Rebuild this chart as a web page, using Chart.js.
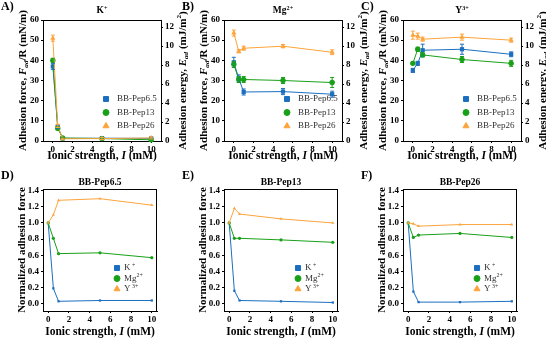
<!DOCTYPE html>
<html>
<head>
<meta charset="utf-8">
<script src="https://cdn.jsdelivr.net/npm/chart.js@4.4.0/dist/chart.umd.min.js"></script>
<style>
  html, body { margin: 0; padding: 0; background: #fff; }
  #wrap { position: relative; width: 546px; height: 339px; overflow: hidden; }
  canvas { position: absolute; }
</style>
</head>
<body>
<div id="wrap">
  <canvas id="cA" width="190" height="170" style="left:0;top:0;width:190px;height:170px"></canvas>
  <canvas id="cB" width="190" height="170" style="left:181px;top:0;width:190px;height:170px"></canvas>
  <canvas id="cC" width="190" height="170" style="left:360px;top:0;width:190px;height:170px"></canvas>
  <canvas id="cD" width="182" height="169" style="left:0;top:170px;width:182px;height:169px"></canvas>
  <canvas id="cE" width="182" height="169" style="left:181px;top:170px;width:182px;height:169px"></canvas>
  <canvas id="cF" width="182" height="169" style="left:360px;top:170px;width:182px;height:169px"></canvas>
</div>
<script>
// ionic strength (mM)
var ionicStrength = [0, 0.5, 1, 5, 10];
var xTicks = [0, 2, 4, 6, 8, 10];

// adhesion force F_ad/R (mN/m), panels A-C
var forceK_Pep65  = [37, 7.0, 1.3, 1.4, 1.3];
var forceK_Pep13  = [40, 6.3, 1.5, 1.2, 0.6];
var forceK_Pep26  = [51, 7.5, 1.1, 1.2, 1.5];
var errK_Pep65    = [1.5, 0.8, 0.3, 0.3, 0.3];
var errK_Pep13    = [1.0, 0.8, 0.3, 0.3, 0.3];
var errK_Pep26    = [1.5, 0.8, 0.3, 0.5, 0.5];

var forceMg_Pep65 = [39, 31, 24.3, 24.5, 23.2];
var forceMg_Pep13 = [38, 30.5, 30.5, 30, 29];
var forceMg_Pep26 = [53.5, 44.5, 46, 47, 44];
var errMg_Pep65   = [2.5, 1.8, 1.5, 1.5, 1.5];
var errMg_Pep13   = [1.5, 1.5, 1.5, 1.5, 2.5];
var errMg_Pep26   = [1.5, 0.8, 1.0, 0.8, 1.2];

var forceY_Pep65  = [35, 38.5, 45, 45.5, 43];
var forceY_Pep13  = [38.5, 45.5, 42.7, 40.4, 38.5];
var forceY_Pep26  = [52.5, 52, 50.5, 51.5, 50];
var errY_Pep65    = [1.0, 1.0, 3.0, 2.5, 1.2];
var errY_Pep13    = [0.5, 1.0, 1.0, 1.5, 1.5];
var errY_Pep26    = [2.0, 1.5, 1.0, 1.5, 1.0];

// normalized adhesion force, panels D-F
var normPep65_K  = [1, 0.19, 0.03, 0.04, 0.04];
var normPep65_Mg = [1, 0.81, 0.62, 0.63, 0.57];
var normPep65_Y  = [1, 1.10, 1.28, 1.30, 1.22];
var normPep13_K  = [1, 0.16, 0.04, 0.03, 0.015];
var normPep13_Mg = [1, 0.81, 0.81, 0.79, 0.76];
var normPep13_Y  = [1, 1.18, 1.11, 1.05, 1.00];
var normPep26_K  = [1, 0.15, 0.02, 0.02, 0.03];
var normPep26_Mg = [1, 0.82, 0.85, 0.87, 0.82];
var normPep26_Y  = [1, 0.99, 0.96, 0.98, 0.98];

var forceTicks = [0, 10, 20, 30, 40, 50, 60];
var energyTicks = [0, 2, 4, 6, 8, 10, 12];
var normTicks = [0, 0.2, 0.4, 0.6, 0.8, 1.0, 1.2, 1.4];

var BLUE = "#1c6fc0", GREEN = "#19a019", ORANGE = "#fca43c";
var SERIF = "Liberation Serif";

function pts(ys) {
  return ionicStrength.map(function (x, i) { return { x: x, y: ys[i] }; });
}

// draw a line of mixed text: parts = [[text, style]], style: "" | "i" | "sup" | "isub"
function rich(ctx, parts, x, y, size, bold, angle, align) {
  ctx.save();
  ctx.translate(x, y);
  ctx.rotate(angle || 0);
  ctx.textBaseline = "middle";
  ctx.textAlign = "left";
  var w = bold ? "bold " : "";
  function font(st) {
    var s = size, it = st.indexOf("i") === 0 ? "italic " : "";
    if (st.indexOf("sub") >= 0 || st.indexOf("sup") >= 0) s = size * 0.65;
    return it + w + s + "px '" + SERIF + "'";
  }
  var total = 0;
  parts.forEach(function (p) { ctx.font = font(p[1] || ""); total += ctx.measureText(p[0]).width; });
  var cx = align === "left" ? 0 : -total / 2;
  parts.forEach(function (p) {
    var st = p[1] || "";
    ctx.font = font(st);
    var dy = st.indexOf("sub") >= 0 ? size * 0.28 : st.indexOf("sup") >= 0 ? -size * 0.32 : 0;
    ctx.fillText(p[0], cx, dy);
    cx += ctx.measureText(p[0]).width;
  });
  ctx.restore();
}

var errorBars = {
  id: "errorBars",
  afterDatasetsDraw: function (chart) {
    var ctx = chart.ctx, ys = chart.scales.y;
    chart.data.datasets.forEach(function (ds, i) {
      if (!ds.err) return;
      var meta = chart.getDatasetMeta(i);
      ctx.save();
      ctx.strokeStyle = ds.borderColor;
      ctx.lineWidth = 1;
      meta.data.forEach(function (el, j) {
        var v = ds.data[j].y, e = ds.err[j];
        var y1 = ys.getPixelForValue(v + e), y2 = ys.getPixelForValue(v - e);
        ctx.beginPath();
        ctx.moveTo(el.x, y1); ctx.lineTo(el.x, y2);
        ctx.moveTo(el.x - 2, y1); ctx.lineTo(el.x + 2, y1);
        ctx.moveTo(el.x - 2, y2); ctx.lineTo(el.x + 2, y2);
        ctx.stroke();
      });
      ctx.restore();
    });
  }
};

function deco(spec) {
  return {
    id: "deco",
    afterDraw: function (chart) {
      var ctx = chart.ctx, a = chart.chartArea;
      ctx.save();
      ctx.strokeStyle = "#000";
      ctx.lineWidth = 1;
      ctx.beginPath();
      ctx.moveTo(a.left, Math.round(a.top) + 0.5);
      ctx.lineTo(a.right, Math.round(a.top) + 0.5);
      if (!spec.y2Title) {
        ctx.moveTo(Math.round(a.right) - 0.5, a.top);
        ctx.lineTo(Math.round(a.right) - 0.5, a.bottom);
      }
      ctx.stroke();
      ctx.fillStyle = "#000";
      var mx = (a.left + a.right) / 2, my = (a.top + a.bottom) / 2;
      rich(ctx, [[spec.panel]], 1, spec.panelY, 12, true, 0, "left");
      rich(ctx, spec.title, mx, spec.titleY, 9.5, true, 0);
      rich(ctx, spec.yTitle, spec.yTitleX, my, 11, true, -Math.PI / 2);
      rich(ctx, spec.xTitle, mx, spec.xTitleY, 11.5, true, 0);
      if (spec.y2Title) rich(ctx, spec.y2Title, spec.y2TitleX, my, 11, true, -Math.PI / 2);
      // legend
      spec.legend.forEach(function (it, k) {
        var ly = spec.legY + k * spec.legGap;
        ctx.fillStyle = it.color;
        ctx.strokeStyle = it.color;
        var r = it.style === "circle" ? 3 : 3.5;
        Chart.helpers.drawPoint(ctx, { pointStyle: it.style, radius: r, rotation: 0, borderWidth: 1 }, spec.legX, ly);
        ctx.fillStyle = "#333";
        rich(ctx, it.label, spec.legX + spec.legTextDx, ly, 9, false, 0, "left");
      });
      ctx.restore();
    }
  };
}

var tickFont = { family: SERIF, size: 9, weight: "bold" };
var gridOpt = { display: true, drawOnChartArea: false, drawTicks: true, tickLength: 2, color: "#000" };
var borderOpt = { display: true, color: "#000", width: 1 };

function fixTicks(list) {
  return function (s) { s.ticks = list.map(function (v) { return { value: v }; }); };
}

function ds(label, data, color, style, err, order, r) {
  return {
    label: label, data: pts(data), err: err, order: order,
    borderColor: color, backgroundColor: color,
    borderWidth: 1, pointStyle: style,
    pointRadius: style === "circle" ? r * 0.9 : r, pointHoverRadius: r,
    pointBorderWidth: 0, tension: 0, clip: false
  };
}

var pepLegend = [
  { label: [["BB-Pep6.5"]], color: BLUE, style: "rect" },
  { label: [["BB-Pep13"]], color: GREEN, style: "circle" },
  { label: [["BB-Pep26"]], color: ORANGE, style: "triangle" }
];
var ionLegend = [
  { label: [["K"], [" +", "sup"]], color: BLUE, style: "rect" },
  { label: [["Mg"], ["2+", "sup"]], color: GREEN, style: "circle" },
  { label: [["Y"], [" 3+", "sup"]], color: ORANGE, style: "triangle" }
];
var xTitle = [["Ionic strength, "], ["I", "i"], [" (mM)"]];

function topChart(id, panel, title, s1, s2, s3, e1, e2, e3) {
  new Chart(document.getElementById(id), {
    type: "line",
    data: {
      datasets: [
        ds("BB-Pep6.5", s1, BLUE, "rect", e1, 2, 3),
        ds("BB-Pep13", s2, GREEN, "circle", e2, 1, 3),
        ds("BB-Pep26", s3, ORANGE, "triangle", e3, 0, 3)
      ]
    },
    options: {
      responsive: false, animation: false,
      layout: { padding: { top: 20, right: 0, left: 0, bottom: 0 } },
      plugins: { legend: { display: false }, tooltip: { enabled: false }, title: { display: false } },
      scales: {
        x: {
          type: "linear", min: -1, max: 11, afterBuildTicks: fixTicks(xTicks),
          afterFit: function (s) { s.height = 29; },
          grid: gridOpt, border: borderOpt,
          ticks: { font: tickFont, color: "#000", padding: 1, maxRotation: 0 }
        },
        y: {
          type: "linear", position: "left", min: 0, max: 60, afterBuildTicks: fixTicks(forceTicks),
          afterFit: function (s) { s.width = 43; },
          grid: gridOpt, border: borderOpt,
          ticks: { font: tickFont, color: "#000", padding: 2 }
        },
        y2: {
          type: "linear", position: "right", min: 0, max: 12.75, afterBuildTicks: fixTicks(energyTicks),
          afterFit: function (s) { s.width = 29; },
          grid: gridOpt, border: borderOpt,
          ticks: { font: tickFont, color: "#000", padding: 2 }
        }
      }
    },
    plugins: [errorBars, deco({
      panel: panel, panelY: 7, title: title, titleY: 11,
      yTitle: [["Adhesion force, "], ["F", "i"], ["ad", "isub"], ["/R (mN/m)"]], yTitleX: 23,
      y2Title: [["Adhesion energy, "], ["E", "i"], ["ad", "isub"], [" (mJ/m"], ["2", "sup"], [")"]], y2TitleX: 183,
      xTitle: xTitle, xTitleY: 156,
      legend: pepLegend, legX: 106, legY: 99, legGap: 13.5, legTextDx: 11
    })]
  });
}

function bottomChart(id, panel, title, s1, s2, s3) {
  new Chart(document.getElementById(id), {
    type: "line",
    data: {
      datasets: [
        ds("K+", s1, BLUE, "rect", null, 2, 1.6),
        ds("Mg2+", s2, GREEN, "circle", null, 1, 1.8),
        ds("Y3+", s3, ORANGE, "triangle", null, 0, 1.8)
      ]
    },
    options: {
      responsive: false, animation: false,
      layout: { padding: { top: 19, right: 25, left: 0, bottom: 0 } },
      plugins: { legend: { display: false }, tooltip: { enabled: false }, title: { display: false } },
      scales: {
        x: {
          type: "linear", min: -0.5, max: 10.5, afterBuildTicks: fixTicks(xTicks),
          afterFit: function (s) { s.height = 28; },
          grid: gridOpt, border: borderOpt,
          ticks: { font: tickFont, color: "#000", padding: 1, maxRotation: 0 }
        },
        y: {
          type: "linear", position: "left", min: -0.09, max: 1.42, afterBuildTicks: fixTicks(normTicks),
          afterFit: function (s) { s.width = 43; },
          grid: gridOpt, border: borderOpt,
          ticks: { font: tickFont, color: "#000", padding: 2, callback: function (v) { return v.toFixed(1); } }
        }
      }
    },
    plugins: [deco({
      panel: panel, panelY: 6, title: title, titleY: 13,
      yTitle: [["Normalized adhesion force"]], yTitleX: 22,
      xTitle: xTitle, xTitleY: 162,
      legend: ionLegend, legX: 117, legY: 98, legGap: 10.5, legTextDx: 7
    })]
  });
}

topChart("cA", "A)", [["K"], ["+", "sup"]], forceK_Pep65, forceK_Pep13, forceK_Pep26, errK_Pep65, errK_Pep13, errK_Pep26);
topChart("cB", "B)", [["Mg"], ["2+", "sup"]], forceMg_Pep65, forceMg_Pep13, forceMg_Pep26, errMg_Pep65, errMg_Pep13, errMg_Pep26);
topChart("cC", "C)", [["Y"], ["3+", "sup"]], forceY_Pep65, forceY_Pep13, forceY_Pep26, errY_Pep65, errY_Pep13, errY_Pep26);
bottomChart("cD", "D)", [["BB-Pep6.5"]], normPep65_K, normPep65_Mg, normPep65_Y);
bottomChart("cE", "E)", [["BB-Pep13"]], normPep13_K, normPep13_Mg, normPep13_Y);
bottomChart("cF", "F)", [["BB-Pep26"]], normPep26_K, normPep26_Mg, normPep26_Y);
</script>
</body>
</html>
